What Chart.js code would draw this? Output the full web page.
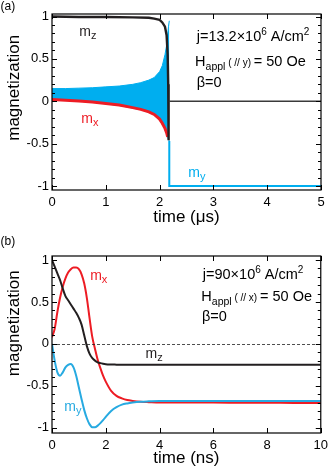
<!DOCTYPE html>
<html><head><meta charset="utf-8">
<script src="https://cdn.jsdelivr.net/npm/chart.js@4.4.1/dist/chart.umd.min.js"></script>
<style>
html,body{margin:0;padding:0;background:#fff;}
#wrap{position:relative;width:333px;height:471px;overflow:hidden;}
canvas{position:absolute;left:0;}
</style></head><body>
<div id="wrap">
<canvas id="ca" width="333" height="235" style="top:0;width:333px;height:235px"></canvas>
<canvas id="cb" width="333" height="236" style="top:235px;width:333px;height:236px"></canvas>
</div>
<script>
// ---------- Panel (a): time in microseconds ----------
const tBandA   = [0, 0.25, 0.5, 0.75, 1.0, 1.25, 1.5, 1.65, 1.8, 1.9, 2.0, 2.05, 2.1, 2.13, 2.15, 2.165, 2.18];
const myUpperA = [0.15, 0.15, 0.155, 0.16, 0.17, 0.18, 0.2, 0.22, 0.25, 0.28, 0.35, 0.42, 0.55, 0.66, 0.78, 0.88, 0.95];
const myLowerA = [0.02, 0.01, 0.0, -0.01, -0.03, -0.05, -0.08, -0.1, -0.13, -0.16, -0.22, -0.27, -0.33, -0.38, -0.42, -0.45, -0.47];
const tMyA     = [2.18, 2.18, 5];
const myA      = [-0.47, -1.0, -1.0];
const tMxA     = [0, 0.25, 0.5, 0.75, 1.0, 1.25, 1.5, 1.65, 1.8, 1.9, 2.0, 2.05, 2.1, 2.13, 2.15];
const mxA      = [0.02, 0.012, 0.004, -0.008, -0.025, -0.045, -0.075, -0.095, -0.125, -0.155, -0.21, -0.26, -0.32, -0.37, -0.42];
const tMzA     = [0, 0.5, 1.0, 1.5, 1.8, 1.9, 2.0, 2.05, 2.1, 2.13, 2.15, 2.16, 2.165, 2.17, 5];
const mzA      = [1.0, 0.995, 0.995, 0.99, 0.985, 0.975, 0.96, 0.93, 0.88, 0.78, 0.55, 0.2, -0.46, 0, 0];
const xTicksA  = [0, 1, 2, 3, 4, 5];

// ---------- Panel (b): time in nanoseconds ----------
const tB  = [0, 0.1, 0.2, 0.3, 0.4, 0.5, 0.6, 0.7, 0.8, 0.9, 1.0, 1.1, 1.2, 1.3, 1.4, 1.5, 1.6, 1.7, 1.8, 1.9, 2.0, 2.2, 2.4, 2.6, 2.8, 3.0, 3.3, 3.6, 4.0, 5, 6, 7, 8, 9, 10];
const mxB = [0.08, 0.18, 0.38, 0.55, 0.68, 0.78, 0.85, 0.89, 0.91, 0.91, 0.89, 0.83, 0.72, 0.54, 0.3, 0.08, -0.06, -0.19, -0.29, -0.38, -0.45, -0.56, -0.62, -0.65, -0.67, -0.68, -0.69, -0.695, -0.7, -0.7, -0.7, -0.702, -0.703, -0.704, -0.705];
const mzB = [1.0, 0.92, 0.84, 0.76, 0.66, 0.57, 0.52, 0.47, 0.42, 0.37, 0.31, 0.23, 0.1, -0.03, -0.12, -0.17, -0.2, -0.22, -0.23, -0.237, -0.242, -0.246, -0.248, -0.25, -0.25, -0.25, -0.25, -0.25, -0.25, -0.25, -0.25, -0.25, -0.25, -0.25, -0.25];
const myB = [0.0, -0.2, -0.34, -0.38, -0.34, -0.28, -0.25, -0.24, -0.28, -0.38, -0.52, -0.66, -0.79, -0.89, -0.96, -0.995, -0.995, -0.975, -0.945, -0.91, -0.87, -0.8, -0.755, -0.725, -0.71, -0.7, -0.69, -0.685, -0.68, -0.68, -0.68, -0.68, -0.68, -0.68, -0.68];
const xTicksB = [0, 2, 4, 6, 8, 10];

const yTicks = [-1, -0.5, 0, 0.5, 1];

const FONT = "'Liberation Sans', Arial, Helvetica, sans-serif";
const RED = '#ED1C24', BLUE_A = '#00AEEF', BLUE_B = '#27AAE1', BLACK = '#231F20';

function pts(xs, ys) { return xs.map((x, i) => ({x: x, y: ys[i]})); }

// frame + inward ticks (major and minor) on all four sides
const framePlugin = {
  id: 'frame',
  afterDatasetsDraw(chart, args, opts) {
    const {ctx, chartArea: a, scales: {x, y}} = chart;
    ctx.save();
    if (opts.zeroDash) {
      const py = Math.round(y.getPixelForValue(0)) + 0.5;
      ctx.strokeStyle = '#222'; ctx.lineWidth = 0.8; ctx.setLineDash([3, 2]);
      ctx.beginPath(); ctx.moveTo(a.left, py); ctx.lineTo(a.right, py); ctx.stroke();
      ctx.setLineDash([]);
    }
    ctx.strokeStyle = '#000'; ctx.lineWidth = 1.2;
    ctx.strokeRect(a.left, a.top, a.right - a.left, a.bottom - a.top);
    ctx.lineWidth = 1;
    ctx.beginPath();
    for (let i = -10; i <= 10; i++) {
      const v = i / 10;
      if (v < y.min || v > y.max) continue;
      const len = (i % 5 === 0) ? 5 : 3;
      const py = Math.round(y.getPixelForValue(v)) + 0.5;
      ctx.moveTo(a.left, py); ctx.lineTo(a.left + len, py);
      ctx.moveTo(a.right, py); ctx.lineTo(a.right - len, py);
    }
    for (const t of x.ticks) {
      const px = Math.round(x.getPixelForValue(t.value)) + 0.5;
      ctx.moveTo(px, a.bottom); ctx.lineTo(px, a.bottom - 5);
      ctx.moveTo(px, a.top); ctx.lineTo(px, a.top + 5);
    }
    ctx.stroke();
    ctx.restore();
  }
};

// rich-text annotations placed in data coordinates
const annotPlugin = {
  id: 'annot',
  afterDraw(chart, args, opts) {
    const {ctx, scales: {x, y}} = chart;
    ctx.save();
    ctx.textBaseline = 'alphabetic';
    ctx.textAlign = 'left';
    for (const it of opts.items || []) {
      let px = x.getPixelForValue(it.x);
      const py = y.getPixelForValue(it.y);
      for (const s of it.segs) {
        ctx.font = (s.italic ? 'italic ' : '') + s.size + 'px ' + FONT;
        ctx.fillStyle = s.color || it.color || '#000';
        ctx.fillText(s.t, px, py + (s.dy || 0));
        px += ctx.measureText(s.t).width;
      }
    }
    if (opts.panel) {
      ctx.font = '12px ' + FONT;
      ctx.fillStyle = '#000';
      ctx.fillText(opts.panel, 0.5, 10);
    }
    ctx.restore();
  }
};

function sub(main, s, color, x, y) {
  return {x: x, y: y, color: color, segs: [{t: main, size: 14}, {t: s, size: 11, dy: 3}]};
}
function jText(main, x, y) {
  return {x: x, y: y, segs: [{t: main, size: 14.5}, {t: '6', size: 10, dy: -6}, {t: ' A/cm', size: 14.5}, {t: '2', size: 10, dy: -6}]};
}
function hText(dir, x, y) {
  return {x: x, y: y, segs: [{t: 'H', size: 14.5}, {t: 'appl', size: 10.5, dy: 4}, {t: ' ( // ' + dir + ') ', size: 10}, {t: '= 50 Oe', size: 14.5}]};
}

function makeOptions(cfg) {
  return {
    responsive: false,
    animation: false,
    devicePixelRatio: 1,
    layout: {padding: {top: cfg.padTop, right: 12, left: 0, bottom: 0}},
    elements: {point: {radius: 0, hoverRadius: 0}},
    plugins: {
      legend: {display: false},
      tooltip: {enabled: false},
      frame: {zeroDash: cfg.zeroDash},
      annot: {items: cfg.items, panel: cfg.panel}
    },
    scales: {
      x: {
        type: 'linear', min: cfg.xMin, max: cfg.xMax,
        afterBuildTicks: s => { s.ticks = cfg.xTicks.map(v => ({value: v})); },
        afterFit: s => { s.height = cfg.xHeight; },
        grid: {display: false, drawTicks: false},
        border: {display: false},
        ticks: {color: '#000', font: {family: FONT, size: 13, weight: 'normal'}, padding: 5, maxRotation: 0, autoSkip: false, callback: v => String(v)},
        title: {display: true, text: cfg.xTitle, color: '#000', font: {family: FONT, size: 17, weight: 'normal'}, padding: {top: 0, bottom: cfg.xTitlePad}}
      },
      y: {
        type: 'linear', min: cfg.yMin, max: cfg.yMax,
        afterBuildTicks: s => { s.ticks = yTicks.map(v => ({value: v})); },
        afterFit: s => { s.width = 52; },
        grid: {display: false, drawTicks: false},
        border: {display: false},
        ticks: {color: '#000', font: {family: FONT, size: 13, weight: 'normal'}, padding: 3, autoSkip: false, callback: v => String(v)},
        title: {display: true, text: cfg.yTitle, color: '#000', font: {family: FONT, size: 17, weight: 'normal'}, padding: {top: 4, bottom: 0}}
      }
    }
  };
}

// ---------- Chart (a) ----------
new Chart(document.getElementById('ca'), {
  type: 'line',
  data: {
    datasets: [
      {label: 'mz', data: pts(tMzA, mzA), borderColor: BLACK, borderWidth: 2.4, fill: false, tension: 0,
       segment: {borderWidth: c => c.p0.parsed.x >= 2.17 ? 1.4 : 2.4, borderColor: c => c.p0.parsed.x >= 2.17 ? '#3a3a3a' : BLACK}},
      {label: 'mx', data: pts(tMxA, mxA), borderColor: RED, borderWidth: 3, fill: false, tension: 0},
      {label: 'my', data: pts(tMyA, myA), borderColor: BLUE_A, borderWidth: 2, fill: false, tension: 0},
      {label: 'my envelope (max)', data: pts(tBandA, myUpperA), borderColor: BLUE_A, borderWidth: 1, backgroundColor: BLUE_A, fill: '+1', tension: 0},
      {label: 'my envelope (min)', data: pts(tBandA, myLowerA), borderColor: BLUE_A, borderWidth: 1, fill: false, tension: 0}
    ]
  },
  options: makeOptions({
    padTop: 14, xMin: 0, xMax: 5, xTicks: xTicksA, xHeight: 45, xTitlePad: 7.5,
    yMin: -1.047, yMax: 1.03, xTitle: 'time (μs)', yTitle: '      magnetization',
    zeroDash: false, panel: '(a)',
    items: [
      sub('m', 'z', BLACK, 0.506, 0.772),
      sub('m', 'x', RED, 0.544, -0.259),
      sub('m', 'y', BLUE_A, 2.534, -0.89),
      jText('j=13.2×10', 2.69, 0.716),
      hText('y', 2.66, 0.421),
      {x: 2.69, y: 0.166, segs: [{t: 'β=0', size: 14.5}]}
    ]
  }),
  plugins: [framePlugin, annotPlugin]
});

// ---------- Chart (b) ----------
new Chart(document.getElementById('cb'), {
  type: 'line',
  data: {
    datasets: [
      {label: 'my', data: pts(tB, myB), borderColor: BLUE_B, borderWidth: 2, fill: false, cubicInterpolationMode: 'monotone'},
      {label: 'mz', data: pts(tB, mzB), borderColor: BLACK, borderWidth: 2, fill: false, cubicInterpolationMode: 'monotone'},
      {label: 'mx', data: pts(tB, mxB), borderColor: RED, borderWidth: 2, fill: false, cubicInterpolationMode: 'monotone'}
    ]
  },
  options: makeOptions({
    padTop: 21, xMin: 0, xMax: 10, xTicks: xTicksB, xHeight: 38, xTitlePad: 2.5,
    yMin: -1.063, yMax: 1.048, xTitle: 'time (ns)', yTitle: '         magnetization',
    zeroDash: true, panel: '(b)',
    items: [
      sub('m', 'x', RED, 1.42, 0.761),
      sub('m', 'z', BLACK, 3.48, -0.165),
      sub('m', 'y', BLUE_B, 0.456, -0.797),
      jText('j=90×10', 5.61, 0.77),
      hText('x', 5.556, 0.515),
      {x: 5.58, y: 0.272, segs: [{t: 'β=0', size: 14.5}]}
    ]
  }),
  plugins: [framePlugin, annotPlugin]
});
</script>
</body></html>
